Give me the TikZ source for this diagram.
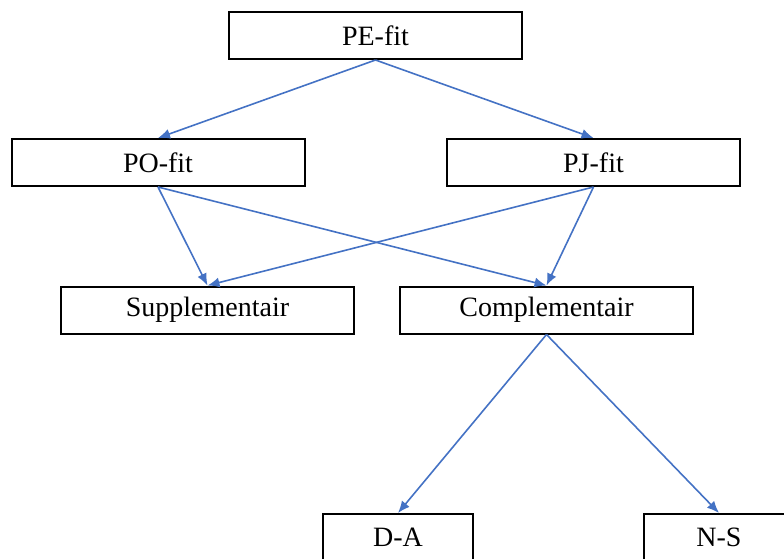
\documentclass[tikz,border=0pt]{standalone}
\usepackage{fontspec}
\setmainfont{Liberation Serif}
\usepackage{tikz}
\usetikzlibrary{arrows.meta,positioning}
\definecolor{fitblue}{RGB}{68,114,196}

\begin{document}
\begin{tikzpicture}[
  x=1pt, y=-1pt,
  font=\fontsize{28}{32}\selectfont,
  box/.style={draw, line width=2pt, minimum width=293pt, minimum height=47pt, inner sep=0pt},
  smallbox/.style={box, minimum width=150pt},
  arr/.style={-{Latex[length=12pt,width=10pt]}, line width=1.6pt, fitblue}
]
\useasboundingbox (0,0) rectangle (784,558);
\node[box] (pe) at (375.5,35.5) {PE-fit};
\node[box] (po) at (158,162.5) {PO-fit};
\node[box] (pj) at (593.5,162.5) {PJ-fit};
\node[box] (supp) at (207.5,310) {Supplementair};
\node[box] (comp) at (546.5,310) {Complementair};
\node[smallbox] (da) at (398,537.5) {D-A};
\node[smallbox] (ns) at (719,537.5) {N-S};
\draw[arr] (pe.south) -- (po.north);
\draw[arr] (pe.south) -- (pj.north);
\draw[arr] (po.south) -- (supp.north);
\draw[arr] (po.south) -- (comp.north);
\draw[arr] (pj.south) -- (supp.north);
\draw[arr] (pj.south) -- (comp.north);
\draw[arr] (comp.south) -- (da.north);
\draw[arr] (comp.south) -- (ns.north);
\end{tikzpicture}
\end{document}
